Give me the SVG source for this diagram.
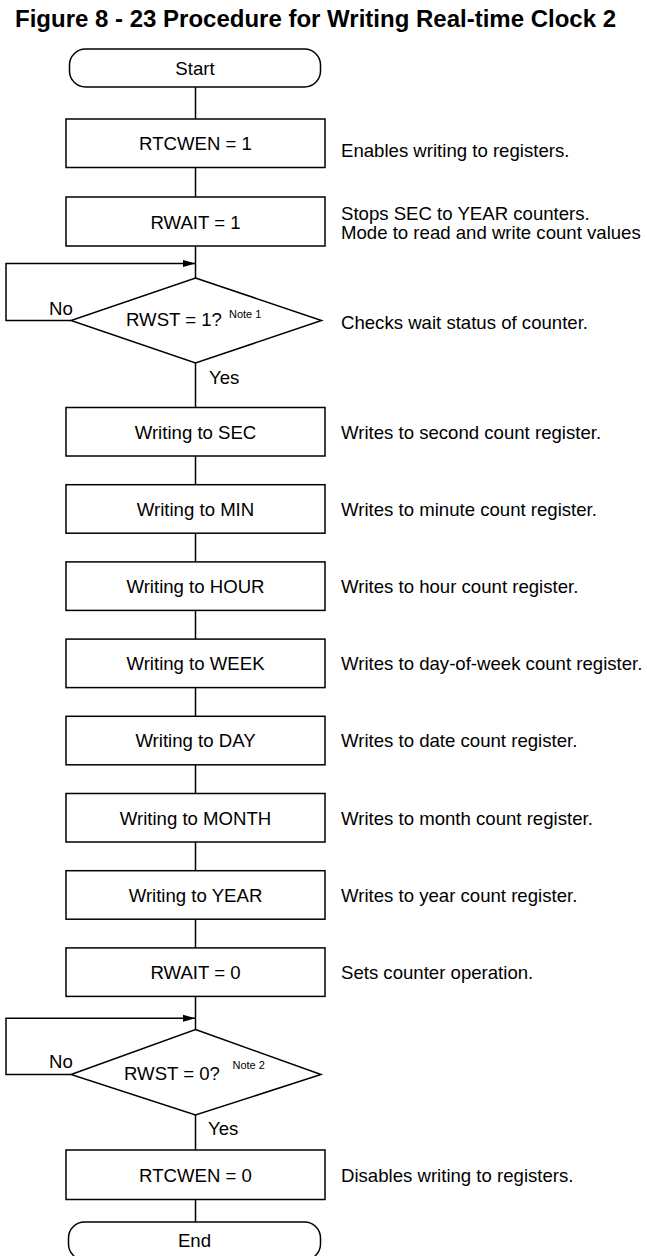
<svg xmlns="http://www.w3.org/2000/svg" width="647" height="1256" viewBox="0 0 647 1256">
<style>
  .shape { fill: #ffffff; stroke: #000000; stroke-width: 1.5; }
  .line { fill: none; stroke: #000000; stroke-width: 1.5; }
  text { font-family: "Liberation Sans", Arial, Helvetica, sans-serif; fill: #000000; }
  .t { font-size: 18.6px; }
  .c { font-size: 18.6px; text-anchor: middle; }
  .note { font-size: 11px; }
  .title { font-size: 24px; font-weight: bold; }
</style>
<defs>
  <marker id="arrow" markerWidth="14" markerHeight="8" refX="13" refY="4" orient="auto" markerUnits="userSpaceOnUse">
    <path d="M0,0.3 L13,4 L0,7.7 Z" fill="#000000"/>
  </marker>
</defs>
<rect width="647" height="1256" fill="#ffffff"/>
<text class="title" x="15" y="27">Figure 8 - 23 Procedure for Writing Real-time Clock 2</text>

<g id="connectors">
  <line class="line" x1="195.5" y1="87" x2="195.5" y2="119"/>
  <line class="line" x1="195.5" y1="167.5" x2="195.5" y2="197"/>
  <line class="line" x1="195.5" y1="246" x2="195.5" y2="278"/>
  <path class="line" d="M71,320.5 H6 V263.5 H195.5" marker-end="url(#arrow)"/>
  <line class="line" x1="195.5" y1="363" x2="195.5" y2="407.5"/>
  <line class="line" x1="195.5" y1="456" x2="195.5" y2="484.7"/>
  <line class="line" x1="195.5" y1="533.2" x2="195.5" y2="561.9"/>
  <line class="line" x1="195.5" y1="610.4" x2="195.5" y2="639.1"/>
  <line class="line" x1="195.5" y1="687.6" x2="195.5" y2="716.3"/>
  <line class="line" x1="195.5" y1="764.8" x2="195.5" y2="793.5"/>
  <line class="line" x1="195.5" y1="842" x2="195.5" y2="870.7"/>
  <line class="line" x1="195.5" y1="919.2" x2="195.5" y2="947.9"/>
  <line class="line" x1="195.5" y1="996.4" x2="195.5" y2="1029.5"/>
  <path class="line" d="M71,1074.5 H6 V1018.3 H195.5" marker-end="url(#arrow)"/>
  <line class="line" x1="195.5" y1="1115" x2="195.5" y2="1150"/>
  <line class="line" x1="195.5" y1="1199.5" x2="195.5" y2="1222"/>
  <text class="t" x="49" y="315">No</text>
  <text class="t" x="209" y="384">Yes</text>
  <text class="t" x="49" y="1068">No</text>
  <text class="t" x="208" y="1135">Yes</text>
</g>

<g id="start">
  <rect class="shape" x="69.5" y="49" width="251" height="38" rx="16" ry="16"/>
  <text class="c" x="195" y="75">Start</text>
</g>

<g id="rtcwen1">
  <rect class="shape" x="66" y="119" width="259" height="48.5"/>
  <text class="c" x="195.5" y="150">RTCWEN = 1</text>
  <text class="t" x="341" y="157">Enables writing to registers.</text>
</g>

<g id="rwait1">
  <rect class="shape" x="66" y="197" width="259" height="49"/>
  <text class="c" x="195.5" y="229">RWAIT = 1</text>
  <text class="t" x="341" y="219.5">Stops SEC to YEAR counters.</text>
  <text class="t" x="341" y="238.5">Mode to read and write count values</text>
</g>

<g id="rwst1">
  <polygon class="shape" points="195.5,278 321.5,320.5 195.5,363 71,320.5"/>
  <text class="t" x="126" y="326">RWST = 1?</text>
  <text class="note" x="229" y="318">Note 1</text>
  <text class="t" x="341" y="329">Checks wait status of counter.</text>
</g>

<g id="sec">
  <rect class="shape" x="66" y="407.5" width="259" height="48.5"/>
  <text class="c" x="195.5" y="438.5">Writing to SEC</text>
  <text class="t" x="341" y="438.5">Writes to second count register.</text>
</g>

<g id="min">
  <rect class="shape" x="66" y="484.7" width="259" height="48.5"/>
  <text class="c" x="195.5" y="515.7">Writing to MIN</text>
  <text class="t" x="341" y="515.7">Writes to minute count register.</text>
</g>

<g id="hour">
  <rect class="shape" x="66" y="561.9" width="259" height="48.5"/>
  <text class="c" x="195.5" y="592.9">Writing to HOUR</text>
  <text class="t" x="341" y="592.9">Writes to hour count register.</text>
</g>

<g id="week">
  <rect class="shape" x="66" y="639.1" width="259" height="48.5"/>
  <text class="c" x="195.5" y="670.1">Writing to WEEK</text>
  <text class="t" x="341" y="670.1">Writes to day-of-week count register.</text>
</g>

<g id="day">
  <rect class="shape" x="66" y="716.3" width="259" height="48.5"/>
  <text class="c" x="195.5" y="747.3">Writing to DAY</text>
  <text class="t" x="341" y="747.3">Writes to date count register.</text>
</g>

<g id="month">
  <rect class="shape" x="66" y="793.5" width="259" height="48.5"/>
  <text class="c" x="195.5" y="824.5">Writing to MONTH</text>
  <text class="t" x="341" y="824.5">Writes to month count register.</text>
</g>

<g id="year">
  <rect class="shape" x="66" y="870.7" width="259" height="48.5"/>
  <text class="c" x="195.5" y="901.7">Writing to YEAR</text>
  <text class="t" x="341" y="901.7">Writes to year count register.</text>
</g>

<g id="rwait0">
  <rect class="shape" x="66" y="947.9" width="259" height="48.5"/>
  <text class="c" x="195.5" y="978.9">RWAIT = 0</text>
  <text class="t" x="341" y="978.9">Sets counter operation.</text>
</g>

<g id="rwst0">
  <polygon class="shape" points="195.5,1029.5 321,1074.5 195.5,1115 71,1074.5"/>
  <text class="t" x="124" y="1080">RWST = 0?</text>
  <text class="note" x="232.5" y="1069">Note 2</text>
</g>

<g id="rtcwen0">
  <rect class="shape" x="66" y="1150" width="259" height="49.5"/>
  <text class="c" x="195.5" y="1181.5">RTCWEN = 0</text>
  <text class="t" x="341" y="1181.5">Disables writing to registers.</text>
</g>

<g id="end">
  <rect class="shape" x="68.5" y="1222" width="252" height="38" rx="16" ry="16"/>
  <text class="c" x="194.5" y="1247">End</text>
</g>
</svg>
